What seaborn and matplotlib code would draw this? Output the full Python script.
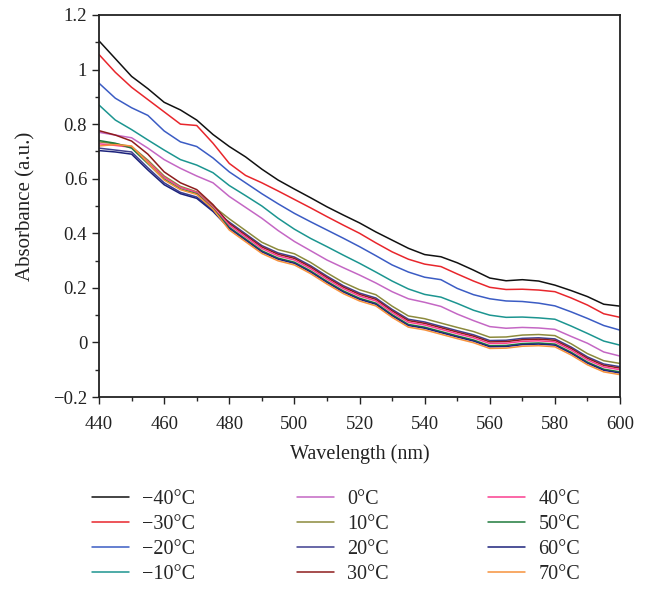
import matplotlib
matplotlib.use("Agg")
import matplotlib.pyplot as plt
import seaborn as sns
import pandas as pd
from matplotlib.ticker import MultipleLocator

wavelength = [440, 445, 450, 455, 460, 465, 470, 475, 480, 485, 490, 495, 500,
              505, 510, 515, 520, 525, 530, 535, 540, 545, 550, 555, 560, 565,
              570, 575, 580, 585, 590, 595, 600]

t_m40 = [1.105, 1.040, 0.975, 0.930, 0.880, 0.852, 0.815, 0.762, 0.718, 0.680, 0.635,
         0.595, 0.562, 0.530, 0.497, 0.467, 0.438, 0.405, 0.375, 0.345, 0.322, 0.314,
         0.292, 0.265, 0.236, 0.226, 0.230, 0.225, 0.210, 0.190, 0.168, 0.140, 0.133]
t_m30 = [1.055, 0.990, 0.935, 0.890, 0.845, 0.800, 0.795, 0.730, 0.656, 0.612, 0.585,
         0.555, 0.524, 0.493, 0.461, 0.430, 0.400, 0.365, 0.332, 0.305, 0.287, 0.278,
         0.251, 0.225, 0.202, 0.194, 0.195, 0.192, 0.186, 0.163, 0.137, 0.105, 0.092]
t_m20 = [0.950, 0.895, 0.860, 0.832, 0.775, 0.735, 0.718, 0.676, 0.625, 0.585, 0.545,
         0.508, 0.473, 0.442, 0.412, 0.382, 0.351, 0.318, 0.284, 0.258, 0.239, 0.230,
         0.198, 0.175, 0.160, 0.152, 0.150, 0.144, 0.134, 0.112, 0.088, 0.062, 0.045]
t_m10 = [0.870, 0.815, 0.780, 0.742, 0.705, 0.670, 0.650, 0.622, 0.575, 0.538, 0.500,
         0.455, 0.415, 0.381, 0.351, 0.320, 0.290, 0.258, 0.225, 0.196, 0.176, 0.166,
         0.143, 0.118, 0.100, 0.092, 0.093, 0.090, 0.085, 0.060, 0.033, 0.005, -0.010]
t_0 = [0.770, 0.760, 0.750, 0.712, 0.670, 0.638, 0.610, 0.585, 0.535, 0.495, 0.455,
       0.410, 0.370, 0.336, 0.302, 0.274, 0.247, 0.218, 0.186, 0.160, 0.147, 0.132,
       0.104, 0.080, 0.058, 0.052, 0.055, 0.053, 0.048, 0.022, -0.003, -0.035, -0.050]
t_10 = [0.735, 0.728, 0.718, 0.668, 0.610, 0.572, 0.552, 0.500, 0.453, 0.410, 0.367,
        0.340, 0.325, 0.293, 0.255, 0.220, 0.193, 0.175, 0.133, 0.097, 0.087, 0.071,
        0.055, 0.040, 0.019, 0.020, 0.027, 0.029, 0.025, -0.005, -0.041, -0.067, -0.077]
t_20 = [0.712, 0.705, 0.698, 0.640, 0.585, 0.550, 0.533, 0.485, 0.441, 0.398, 0.355,
        0.328, 0.313, 0.281, 0.243, 0.208, 0.181, 0.163, 0.121, 0.085, 0.075, 0.059,
        0.043, 0.028, 0.007, 0.008, 0.015, 0.017, 0.013, -0.017, -0.053, -0.079, -0.089]
t_30 = [0.776, 0.760, 0.738, 0.690, 0.625, 0.585, 0.560, 0.505, 0.436, 0.393, 0.350,
        0.323, 0.308, 0.276, 0.238, 0.203, 0.176, 0.158, 0.116, 0.080, 0.070, 0.054,
        0.038, 0.023, 0.002, 0.003, 0.010, 0.012, 0.008, -0.022, -0.058, -0.084, -0.094]
t_40 = [0.728, 0.722, 0.715, 0.662, 0.605, 0.568, 0.550, 0.495, 0.430, 0.387, 0.344,
        0.317, 0.302, 0.270, 0.232, 0.197, 0.170, 0.152, 0.110, 0.074, 0.064, 0.048,
        0.032, 0.017, -0.004, -0.003, 0.004, 0.006, 0.002, -0.028, -0.064, -0.090, -0.100]
t_50 = [0.740, 0.730, 0.712, 0.655, 0.598, 0.562, 0.545, 0.490, 0.422, 0.379, 0.336,
        0.309, 0.294, 0.262, 0.224, 0.189, 0.162, 0.144, 0.102, 0.066, 0.056, 0.040,
        0.024, 0.009, -0.012, -0.011, -0.004, -0.002, -0.006, -0.036, -0.072, -0.098, -0.108]
t_60 = [0.703, 0.698, 0.690, 0.632, 0.578, 0.545, 0.528, 0.480, 0.418, 0.375, 0.332,
        0.305, 0.290, 0.258, 0.220, 0.185, 0.158, 0.140, 0.098, 0.062, 0.052, 0.036,
        0.020, 0.005, -0.016, -0.015, -0.008, -0.006, -0.010, -0.040, -0.076, -0.102, -0.112]
t_70 = [0.720, 0.725, 0.720, 0.658, 0.595, 0.560, 0.542, 0.488, 0.412, 0.369, 0.326,
        0.299, 0.284, 0.252, 0.214, 0.179, 0.152, 0.134, 0.092, 0.056, 0.046, 0.030,
        0.014, -0.001, -0.022, -0.021, -0.014, -0.012, -0.016, -0.046, -0.082, -0.108, -0.118]

labels = ["\u221240\u00b0C", "\u221230\u00b0C", "\u221220\u00b0C", "\u221210\u00b0C",
          "0\u00b0C", "10\u00b0C", "20\u00b0C", "30\u00b0C",
          "40\u00b0C", "50\u00b0C", "60\u00b0C", "70\u00b0C"]
series = [t_m40, t_m30, t_m20, t_m10, t_0, t_10, t_20, t_30, t_40, t_50, t_60, t_70]
colors = ["#111111", "#e8262c", "#3b5cc4", "#1c9590", "#c467c4", "#8c8a3c",
          "#3f3f90", "#8e1c1c", "#fb3f8f", "#1f7a3c", "#1c237c", "#f7923c"]

rows = []
for lab, vals in zip(labels, series):
    for w, v in zip(wavelength, vals):
        rows.append({"wl": w, "abs": v, "temp": lab})
df = pd.DataFrame(rows)

sns.set_style("ticks")
plt.rcParams["font.family"] = ["Liberation Serif", "DejaVu Serif"]
plt.rcParams["axes.unicode_minus"] = True

fig = plt.figure(figsize=(6.46, 5.90), dpi=100)
ax = fig.add_axes([0.1533, 0.3271, 0.8065, 0.6475])

sns.lineplot(data=df, x="wl", y="abs", hue="temp", hue_order=labels,
             palette=dict(zip(labels, colors)), linewidth=1.1, ax=ax,
             estimator=None, legend="full")
handles, labs = ax.get_legend_handles_labels()
ax.legend_.remove()

ax.set_xlim(440, 600)
ax.set_ylim(-0.2, 1.2)
ax.xaxis.set_major_locator(MultipleLocator(20))
ax.xaxis.set_minor_locator(MultipleLocator(10))
ax.yaxis.set_minor_locator(MultipleLocator(0.1))
ax.set_yticks([-0.2, 0, 0.2, 0.4, 0.6, 0.8, 1.0, 1.2])
ax.set_yticklabels(["\u22120.2", "0", "0.2", "0.4", "0.6", "0.8", "1", "1.2"])
ax.tick_params(which="major", direction="out", length=5, width=1, labelsize=13.5, colors="#222222")
ax.tick_params(axis="x", which="major", pad=9)
ax.tick_params(which="minor", direction="out", length=3, width=1)
for s in ax.spines.values():
    s.set_linewidth(1.3)
    s.set_color("#222222")
ax.set_xlabel("Wavelength (nm)", fontsize=14.5, color="#222222", labelpad=8)
ax.set_ylabel("Absorbance (a.u.)", fontsize=15, color="#222222", labelpad=13)

xs = [0.1424, 0.4598, 0.7554]
for i, x in enumerate(xs):
    fig.legend(handles[i * 4:(i + 1) * 4], labs[i * 4:(i + 1) * 4],
               loc="upper left", bbox_to_anchor=(x, 0.169), frameon=False,
               fontsize=14.5, handlelength=1.85, handletextpad=0.65,
               labelspacing=0.29, borderpad=0, borderaxespad=0)

fig.savefig("out.png", dpi=100)
